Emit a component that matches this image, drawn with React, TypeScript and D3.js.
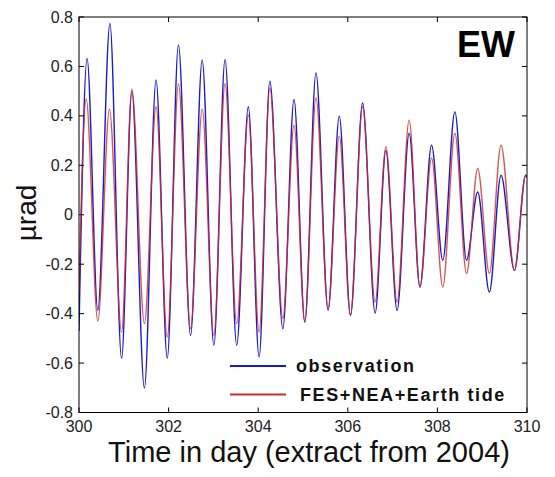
import React from "react";
import * as d3 from "d3";

// Observation (blue) extrema: [day, µrad]
const obsTimes = [300.0, 300.18, 300.42, 300.69, 300.95, 301.18, 301.46, 301.72, 301.97, 302.22, 302.49, 302.75, 303.01, 303.26, 303.52, 303.78, 304.02, 304.26, 304.55, 304.8, 305.04, 305.29, 305.56, 305.81, 306.06, 306.33, 306.61, 306.85, 307.1, 307.37, 307.61, 307.87, 308.12, 308.39, 308.65, 308.9, 309.16, 309.42, 309.72, 309.97, 310.0];
const obsValues = [-0.47, 0.632, -0.387, 0.774, -0.581, 0.5, -0.701, 0.545, -0.581, 0.687, -0.488, 0.626, -0.528, 0.628, -0.528, 0.437, -0.576, 0.54, -0.461, 0.466, -0.434, 0.574, -0.387, 0.399, -0.407, 0.452, -0.398, 0.26, -0.387, 0.33, -0.292, 0.281, -0.184, 0.416, -0.184, 0.092, -0.313, 0.16, -0.225, 0.16, 0.15];

// Model FES+NEA+Earth tide (red) extrema
const modelTimes = [300.0, 300.16, 300.42, 300.68, 300.95, 301.18, 301.46, 301.72, 301.97, 302.22, 302.49, 302.75, 303.01, 303.26, 303.52, 303.78, 304.02, 304.26, 304.55, 304.8, 305.04, 305.29, 305.56, 305.81, 306.06, 306.33, 306.61, 306.85, 307.1, 307.37, 307.61, 307.87, 308.12, 308.39, 308.65, 308.9, 309.16, 309.42, 309.72, 309.97, 310.0];
const modelValues = [-0.3, 0.468, -0.43, 0.427, -0.475, 0.508, -0.44, 0.437, -0.495, 0.529, -0.46, 0.427, -0.488, 0.53, -0.44, 0.403, -0.475, 0.512, -0.42, 0.362, -0.434, 0.473, -0.379, 0.318, -0.407, 0.437, -0.353, 0.275, -0.353, 0.383, -0.292, 0.229, -0.292, 0.33, -0.238, 0.187, -0.237, 0.281, -0.225, 0.16, 0.15];

const xTicks = [300, 302, 304, 306, 308, 310];
const xTickLabels = ["300", "302", "304", "306", "308", "310"];
const yTicks = [-0.8, -0.6, -0.4, -0.2, 0, 0.2, 0.4, 0.6, 0.8];
const yTickLabels = ["-0.8", "-0.6", "-0.4", "-0.2", "0", "0.2", "0.4", "0.6", "0.8"];
const seriesNames = ["observation", "FES+NEA+Earth tide"];

const W = 555;
const H = 477;
const L = 79, R = 527, T = 17, B = 412.5;
const font = "'Liberation Sans', Arial, sans-serif";

export default function App() {
  const x = d3.scaleLinear().domain([300, 310]).range([L, R]);
  const y = d3.scaleLinear().domain([-0.8, 0.8]).range([B, T]);
  const line = d3
    .line<[number, number]>()
    .x((d) => x(d[0]))
    .y((d) => y(d[1]))
    .curve(d3.curveMonotoneX);
  const obs: [number, number][] = obsTimes.map((t, i) => [t, obsValues[i]]);
  const mod: [number, number][] = modelTimes.map((t, i) => [t, modelValues[i]]);
  const blue = "#1a1ad0";
  const red = "#cc2b2b";
  const tl = 5;

  return (
    <svg
      width={W}
      height={H}
      style={{ position: "absolute", left: 0, top: 0, background: "#fff" }}
      fontFamily={font}
    >
      <rect x={0} y={0} width={W} height={H} fill="#fff" />
      <defs>
        <clipPath id="plotclip">
          <rect x={L} y={T} width={R - L} height={B - T} />
        </clipPath>
      </defs>
      <g clipPath="url(#plotclip)">
        <path d={line(obs) || ""} fill="none" stroke={blue} strokeWidth={1.4} />
        <path d={line(mod) || ""} fill="none" stroke={red} strokeWidth={1.4} strokeOpacity={0.8} />
      </g>
      {/* frame */}
      <rect x={L} y={T} width={R - L} height={B - T} fill="none" stroke="#000" strokeWidth={1} />
      {/* x ticks */}
      {xTicks.map((t, i) => (
        <g key={"x" + i}>
          <line x1={x(t)} x2={x(t)} y1={B} y2={B - tl} stroke="#000" />
          <line x1={x(t)} x2={x(t)} y1={T} y2={T + tl} stroke="#000" />
          <text x={x(t)} y={432} fontSize={16} fill="#222" textAnchor="middle">
            {xTickLabels[i]}
          </text>
        </g>
      ))}
      {/* y ticks */}
      {yTicks.map((v, i) => (
        <g key={"y" + i}>
          <line x1={L} x2={L + tl} y1={y(v)} y2={y(v)} stroke="#000" />
          <line x1={R} x2={R - tl} y1={y(v)} y2={y(v)} stroke="#000" />
          <text x={73} y={y(v) + 5.5} fontSize={16} fill="#222" textAnchor="end">
            {yTickLabels[i]}
          </text>
        </g>
      ))}
      {/* axis labels */}
      <text x={309} y={462} fontSize={29} fill="#111" textAnchor="middle">
        Time in day (extract from 2004)
      </text>
      <text
        transform={`translate(36, 213) rotate(-90)`}
        fontSize={28}
        fill="#111"
        textAnchor="middle"
      >
        µrad
      </text>
      {/* panel label */}
      <text x={515} y={57} fontSize={36} fontWeight="bold" fill="#000" textAnchor="end">
        EW
      </text>
      {/* legend */}
      <line x1={230} x2={286} y1={366} y2={366} stroke={blue} strokeWidth={2} />
      <line x1={230} x2={286} y1={394.5} y2={394.5} stroke={red} strokeWidth={2} />
      <text x={296} y={372} fontSize={18} fontWeight="bold" letterSpacing={1.6} fill="#111">
        {seriesNames[0]}
      </text>
      <text x={300} y={401} fontSize={18} fontWeight="bold" letterSpacing={1.6} fill="#111">
        {seriesNames[1]}
      </text>
    </svg>
  );
}
